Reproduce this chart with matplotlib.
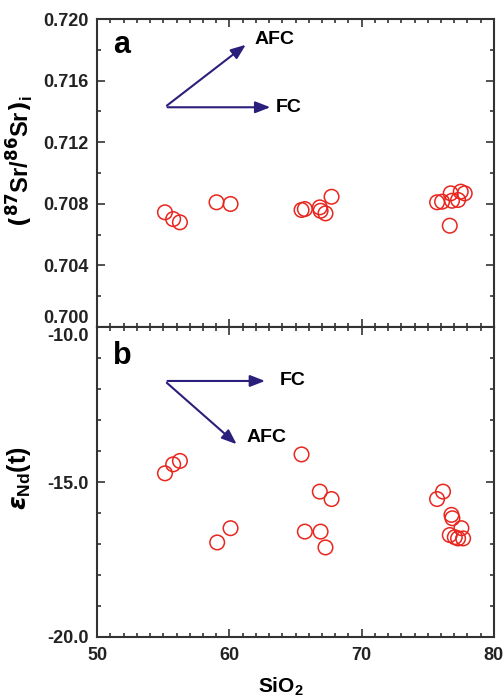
import matplotlib.pyplot as plt
from matplotlib.ticker import MultipleLocator, FuncFormatter

plt.rcParams['font.family'] = ['Liberation Sans', 'DejaVu Sans']
plt.rcParams['font.weight'] = 'bold'

# panel a: SiO2 vs initial Sr isotopes
sio2_a = [55.12, 55.74, 56.25, 59.02, 60.08, 65.45, 65.70, 66.83, 66.89, 67.26,
          67.72, 75.70, 76.08, 76.73, 76.83, 77.29, 77.49, 77.79, 76.66]
sr_i = [0.70745, 0.70701, 0.70680, 0.70810, 0.70799, 0.70760, 0.70766, 0.70777,
        0.70755, 0.70738, 0.70846, 0.70810, 0.70814, 0.70868, 0.70820, 0.70825,
        0.70879, 0.70868, 0.70658]

# panel b: SiO2 vs eNd(t)
sio2_b = [55.12, 55.74, 56.25, 59.07, 60.08, 65.45, 65.70, 66.83, 66.89, 67.26,
          67.72, 75.70, 76.15, 76.79, 76.86, 76.66, 77.04, 77.29, 77.54, 77.67]
end_t = [-14.72, -14.43, -14.32, -16.95, -16.49, -14.11, -16.60, -15.31, -16.60,
         -17.11, -15.55, -15.55, -15.31, -16.06, -16.17, -16.71, -16.78, -16.82,
         -16.49, -16.82]

red = '#e8261e'
navy = '#2b1f7c'
gray = '#333333'
arrow = dict(arrowstyle='-|>,head_length=0.9,head_width=0.35', color=navy, lw=1.5)

fig = plt.figure(figsize=(5.04, 6.97), dpi=100)
ax1 = fig.add_axes([0.193, 0.5308, 0.787, 0.4419])
ax2 = fig.add_axes([0.193, 0.0861, 0.787, 0.4447])

for ax in (ax1, ax2):
    ax.set_xlim(50, 80)
    ax.xaxis.set_major_locator(MultipleLocator(10))
    ax.xaxis.set_minor_locator(MultipleLocator(1))
    ax.tick_params(which='both', direction='in', top=True, right=True,
                   colors=gray, labelcolor='#222222', labelsize=13, width=1.2)
    ax.tick_params(which='major', length=6)
    ax.tick_params(which='minor', length=3)
    ax.tick_params(axis='y', pad=6)
    ax.tick_params(axis='x', pad=7)
    for s in ax.spines.values():
        s.set_color(gray)
        s.set_linewidth(1.5)

ax1.scatter(sio2_a, sr_i, s=110, facecolors='none', edgecolors=red, linewidths=1.1)
ax1.set_ylim(0.700, 0.720)
ax1.yaxis.set_major_locator(MultipleLocator(0.004))
ax1.yaxis.set_minor_locator(MultipleLocator(0.002))
# bottom label drawn by hand below, so it can sit above the shared edge
ax1.yaxis.set_major_formatter(FuncFormatter(
    lambda v, p: '' if abs(v - 0.700) < 1e-6 else '%.3f' % v))
ax1.tick_params(labelbottom=False)
ax1.set_ylabel(r'$(^{87}$Sr/$^{86}$Sr$)_\mathregular{i}$', fontsize=17,
               fontweight='bold')
ax1.yaxis.set_label_coords(-0.155, 0.54)
ax1.text(51.2, 0.7183, 'a', fontsize=22, fontweight='bold', va='center')
ax1.annotate('0.700', xy=(0, 0), xycoords='axes fraction', xytext=(-6, 0),
             textcoords='offset points', ha='right', va='bottom',
             fontsize=13, color='#222222')

ax1.annotate('', xy=(63.3, 0.71427), xytext=(55.1, 0.71427), arrowprops=arrow)
ax1.annotate('', xy=(61.4, 0.71844), xytext=(55.1, 0.71427), arrowprops=arrow)
ax1.text(63.5, 0.71427, 'FC', fontsize=14, fontweight='bold', va='center')
ax1.text(61.9, 0.71867, 'AFC', fontsize=14, fontweight='bold', va='center')

ax2.scatter(sio2_b, end_t, s=110, facecolors='none', edgecolors=red, linewidths=1.1)
ax2.set_ylim(-20, -10)
ax2.yaxis.set_major_locator(MultipleLocator(5))
ax2.yaxis.set_minor_locator(MultipleLocator(1))
ax2.yaxis.set_major_formatter(FuncFormatter(
    lambda v, p: '' if abs(v + 10) < 1e-6 else '%.1f' % v))
ax2.set_ylabel(r'$\varepsilon_\mathregular{Nd}$(t)', fontsize=18, fontweight='bold')
ax2.yaxis.set_label_coords(-0.162, 0.513)
ax2.set_xlabel(r'SiO$_\mathregular{2}$', fontsize=15, fontweight='bold')
ax2.xaxis.set_label_coords(0.463, -0.125)
ax2.text(51.2, -10.95, 'b', fontsize=22, fontweight='bold', va='center')
ax2.annotate('-10.0', xy=(0, 1), xycoords='axes fraction', xytext=(-6, -1),
             textcoords='offset points', ha='right', va='top',
             fontsize=13, color='#222222')

ax2.annotate('', xy=(62.9, -11.74), xytext=(55.1, -11.74), arrowprops=arrow)
ax2.annotate('', xy=(60.7, -13.84), xytext=(55.1, -11.74), arrowprops=arrow)
ax2.text(63.8, -11.74, 'FC', fontsize=14, fontweight='bold', va='center')
ax2.text(61.3, -13.55, 'AFC', fontsize=14, fontweight='bold', va='center')

fig.savefig('out.png', dpi=100)
